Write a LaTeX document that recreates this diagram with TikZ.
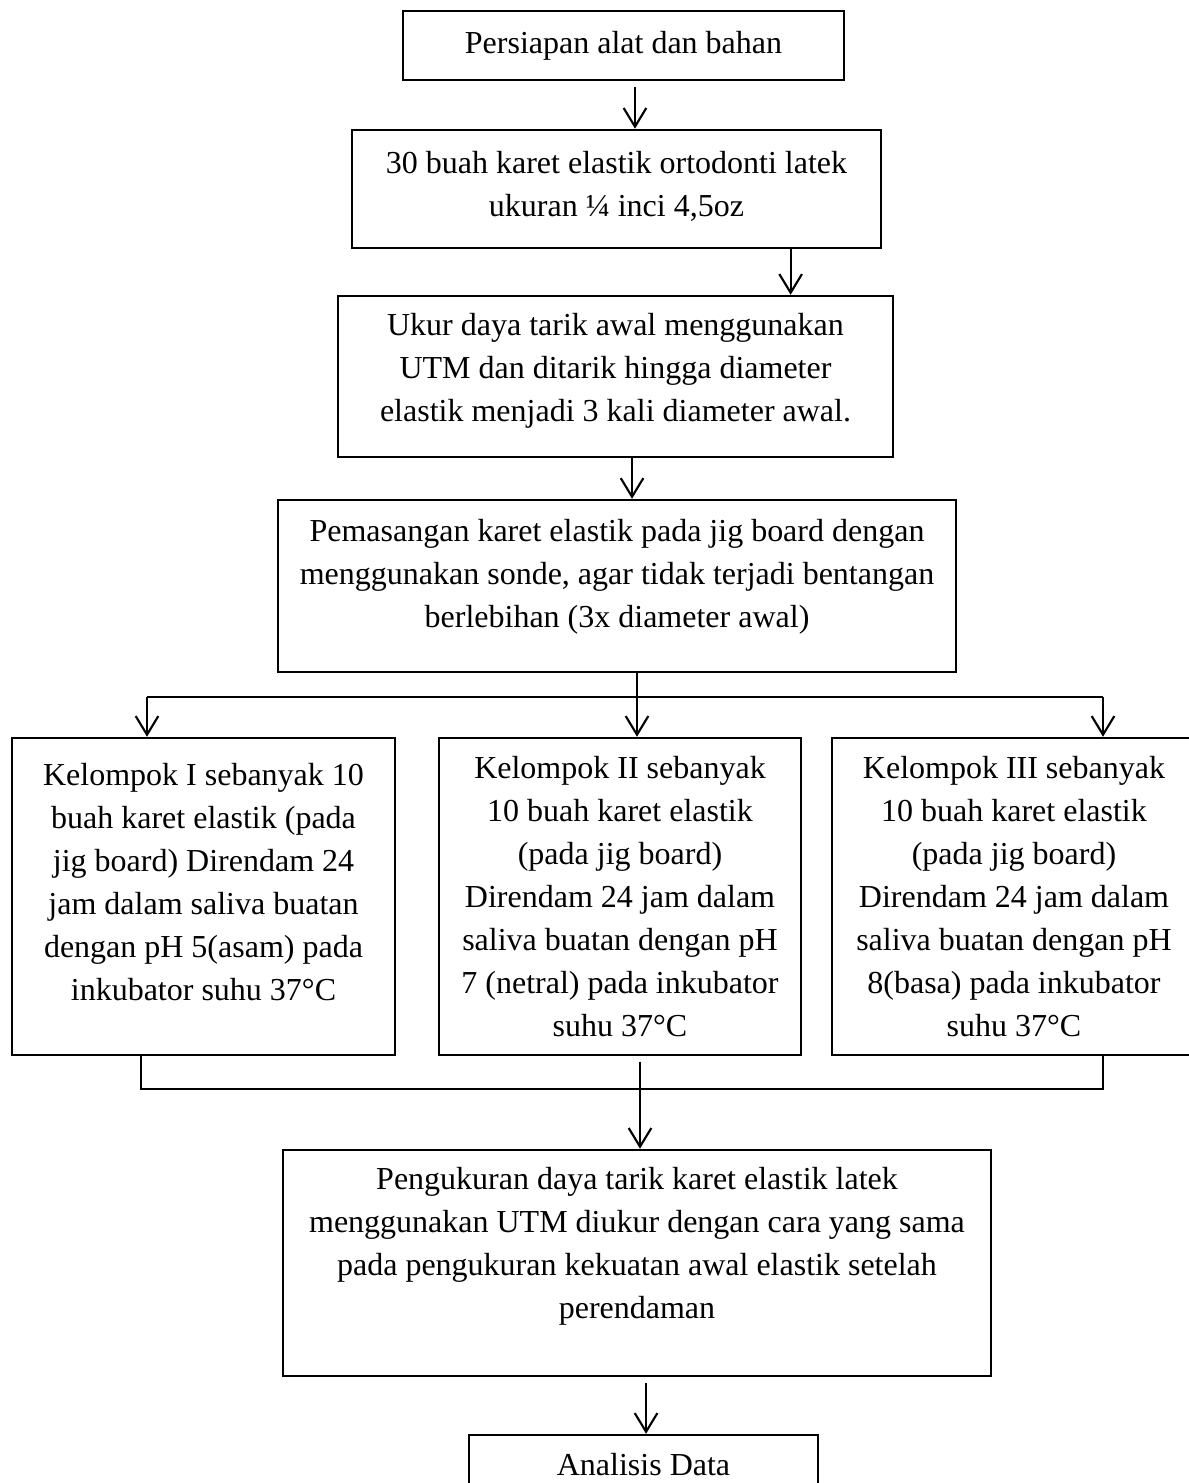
\documentclass[tikz,border=0pt]{standalone}
\usepackage{fontspec}
\setmainfont{Liberation Serif}
\usetikzlibrary{positioning, arrows.meta, calc}
\tikzset{
  stepbox/.style={rectangle, draw=black, line width=0.9pt, inner sep=0pt},
  steptext/.style={align=center, inner sep=0pt, font=\fontsize{12}{16.1}\selectfont},
  flow/.style={-{Straight Barb[length=7pt, width=8.5pt]}, line width=0.8pt},
  link/.style={line width=0.55pt},
}

\begin{document}
\begin{tikzpicture}[x=0.375pt, y=-0.375pt]
  \useasboundingbox (0,0) rectangle (1189,1483);

  % kotak alur
  \node[stepbox, minimum width=165.4pt, minimum height=25.9pt] (b1) at (623.5,45.5) {};
  \node[steptext] (t1) at (b1.center) {Persiapan alat dan bahan};
  \node[stepbox, minimum width=198.4pt, minimum height=44.3pt] (b2) at (616.5,189) {};
  \node[steptext] (t2) at ([yshift=1pt]b2.center) {30 buah karet elastik ortodonti latek\\ukuran ¼ inci 4,5oz};
  \node[stepbox, minimum width=208.1pt, minimum height=60.4pt] (b3) at (615.5,376.5) {};
  \node[steptext] (t3) at ([yshift=2pt]b3.center) {Ukur daya tarik awal menggunakan\\UTM dan ditarik hingga diameter\\elastik menjadi 3 kali diameter awal.};
  \node[stepbox, minimum width=254.3pt, minimum height=64.5pt] (b4) at (617,586) {};
  \node[steptext] (t4) at ([yshift=3.4pt]b4.center) {Pemasangan karet elastik pada jig board dengan\\menggunakan sonde, agar tidak terjadi bentangan\\berlebihan (3x diameter awal)};

  % tiga kelompok
  \node[stepbox, minimum width=143.6pt, minimum height=118.9pt] (b5) at (203.5,896.5) {};
  \node[steptext] (t5) at ([yshift=5.4pt]b5.center) {Kelompok I sebanyak 10\\buah karet elastik (pada\\jig board) Direndam 24\\jam dalam saliva buatan\\dengan pH 5(asam) pada\\inkubator suhu 37°C};
  \node[stepbox, minimum width=135.8pt, minimum height=118.9pt] (b6) at (620,896.5) {};
  \node[steptext] (t6) at (b6.center) {Kelompok II sebanyak\\10 buah karet elastik\\(pada jig board)\\Direndam 24 jam dalam\\saliva buatan dengan pH\\7 (netral) pada inkubator\\suhu 37°C};
  \node[stepbox, minimum width=136.5pt, minimum height=118.9pt] (b7) at (1014,896.5) {};
  \node[steptext] (t7) at (b7.center) {Kelompok III sebanyak\\10 buah karet elastik\\(pada jig board)\\Direndam 24 jam dalam\\saliva buatan dengan pH\\8(basa) pada inkubator\\suhu 37°C};

  \node[stepbox, minimum width=265.5pt, minimum height=84.8pt] (b8) at (637,1263) {};
  \node[steptext] (t8) at ([yshift=6.4pt]b8.center) {Pengukuran daya tarik karet elastik latek\\menggunakan UTM diukur dengan cara yang sama\\pada pengukuran kekuatan awal elastik setelah\\perendaman};
  \node[stepbox, minimum width=130.9pt, minimum height=22.5pt] (b9) at (643.5,1465) {};
  \node[steptext] (t9) at (b9.center) {Analisis Data};

  % titik cabang
  \coordinate (jl) at (147,697);
  \coordinate (jr) at (1103,697);
  \coordinate (kl) at (141,1089);
  \coordinate (kr) at (1103,1089);

  \draw[flow, shorten <=2pt] ([xshift=4.3pt]b1.south) -- ([xshift=4.3pt]b1.south |- b2.north);
  \draw[flow] ([xshift=65.3pt]b2.south) -- ([xshift=65.3pt]b2.south |- b3.north);
  \draw[flow] ([xshift=6.2pt]b3.south) -- ([xshift=6.2pt]b3.south |- b4.north);
  \draw[flow] ([xshift=7.5pt]b4.south) -- ([xshift=7.5pt]b4.south |- b6.north);
  \draw[link] (jl) -- (jr);
  \draw[flow] (jl) -- (jl |- b5.north);
  \draw[flow] (jr) -- (jr |- b7.north);

  \draw[link] (kl |- b5.south) -- (kl) -- (kr) -- (kr |- b7.south);
  \draw[flow, shorten <=2pt] ([xshift=7.5pt]b6.south) -- ([xshift=7.5pt]b6.south |- b8.north);
  \draw[flow, shorten <=2pt] ([xshift=3.4pt]b8.south) -- ([xshift=3.4pt]b8.south |- b9.north);
\end{tikzpicture}
\end{document}
